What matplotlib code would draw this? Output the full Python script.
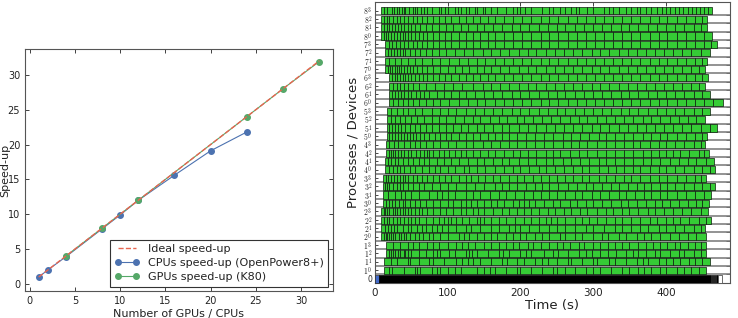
import numpy as np
import matplotlib
matplotlib.use('Agg')
import matplotlib.pyplot as plt

# ---------------- speed-up data (left panel) ----------------
ideal_x = list(range(1, 33))
ideal_y = list(range(1, 33))
cpu_n = [1, 2, 4, 8, 10, 12, 16, 20, 24]
cpu_speedup = [1.0, 2.0, 3.9, 7.9, 9.9, 12.0, 15.6, 19.1, 21.8]
gpu_n = [4, 8, 12, 24, 28, 32]
gpu_speedup = [4.0, 8.0, 12.0, 24.0, 28.0, 31.9]

# ---------------- timeline data (right panel) ----------------
# rows bottom to top: 1^0 .. 8^3  (process ^ device)
row_labels = ['0'] + [r'$%d^%d$' % (p, d) for p in range(1, 9) for d in range(4)]
row_start = [13, 13, 15, 15, 9, 9, 9, 9, 10.5, 10.5, 10.5, 10.5, 14, 14, 15, 15,
             16.5, 16.5, 16.5, 16.5, 19, 20, 20, 20, 14, 14, 14, 14, 8, 8, 8, 8]
row_end = [455, 461, 455, 455, 455, 454, 462, 458, 459, 462, 468, 455, 468, 466, 459, 454,
           456, 470, 454, 461, 479, 460, 454, 458, 454, 457, 461, 470, 464, 456, 457, 464]

proc1 = [
    [20, 24, 40, 55, 58, 62, 78, 85, 90, 100, 110, 118, 140, 150, 158, 165, 180, 195, 200, 215, 230, 245, 250, 262, 275, 290, 300, 310, 325, 340, 350, 362, 370, 380, 392, 400, 415, 425, 435, 445],
    [22, 30, 45, 48, 60, 75, 80, 95, 112, 120, 128, 135, 145, 160, 175, 182, 195, 205, 220, 230, 238, 250, 265, 270, 285, 300, 305, 322, 330, 345, 360, 368, 375, 390, 400, 410, 420, 432, 440, 450],
    [20, 22, 25, 28, 32, 35, 40, 42, 45, 50, 60, 70, 80, 85, 90, 102, 110, 125, 130, 134, 140, 155, 170, 176, 185, 200, 208, 215, 232, 245, 252, 265, 280, 290, 298, 310, 320, 332, 345, 355, 362, 372, 385, 392, 405, 418, 425, 438, 448],
    [25, 35, 45, 52, 60, 72, 80, 88, 100, 112, 120, 128, 138, 150, 160, 170, 180, 190, 198, 210, 218, 228, 240, 250, 258, 268, 280, 288, 300, 310, 320, 330, 340, 350, 362, 372, 382, 392, 402, 412, 420, 430, 440, 448],
]
proc2 = [
    [12, 15, 17, 20, 22, 25, 28, 33, 36, 40, 43, 48, 55, 60, 66, 75, 80, 90, 100, 115, 122, 130, 140, 150, 160, 168, 180, 190, 200, 208, 220, 230, 240, 255, 262, 275, 285, 300, 312, 320, 335, 345, 360, 370, 380, 392, 405, 418, 430, 442],
    [14, 18, 22, 26, 30, 38, 45, 50, 58, 65, 70, 78, 85, 92, 100, 112, 125, 132, 145, 160, 170, 185, 192, 200, 212, 225, 240, 250, 262, 275, 290, 300, 315, 330, 340, 352, 365, 375, 390, 400, 412, 425, 438, 448],
    [13, 16, 20, 25, 30, 35, 40, 45, 50, 55, 60, 70, 80, 88, 95, 100, 105, 112, 120, 130, 140, 145, 150, 160, 170, 180, 192, 205, 215, 225, 235, 242, 250, 262, 275, 285, 295, 305, 318, 330, 340, 352, 365, 378, 388, 400, 410, 420, 432, 445, 455],
    [12, 14, 17, 20, 25, 28, 31, 35, 38, 42, 46, 50, 55, 60, 65, 72, 80, 90, 98, 108, 118, 125, 135, 142, 150, 162, 175, 185, 195, 205, 215, 225, 238, 248, 260, 270, 282, 292, 305, 318, 328, 340, 350, 362, 375, 385, 398, 410, 422, 435, 448],
]
proc3 = [
    [15, 20, 24, 28, 33, 38, 42, 48, 55, 62, 70, 80, 90, 100, 108, 118, 125, 132, 140, 150, 160, 168, 178, 190, 198, 205, 212, 220, 232, 245, 255, 268, 278, 290, 300, 312, 325, 338, 348, 360, 372, 385, 395, 405, 418, 430, 442, 450],
    [18, 28, 36, 42, 50, 60, 75, 85, 92, 100, 110, 125, 135, 145, 158, 170, 180, 192, 205, 218, 228, 240, 250, 262, 275, 285, 298, 310, 322, 335, 345, 358, 370, 380, 392, 402, 415, 428, 440, 452],
    [14, 17, 20, 25, 30, 35, 38, 45, 52, 60, 68, 78, 90, 100, 112, 125, 138, 150, 165, 175, 185, 195, 208, 220, 230, 240, 252, 265, 278, 290, 300, 312, 325, 335, 348, 360, 370, 380, 392, 402, 412, 425, 438, 450, 460],
    [15, 18, 22, 26, 30, 34, 38, 42, 46, 52, 58, 65, 72, 80, 88, 96, 105, 115, 125, 132, 142, 152, 162, 172, 185, 195, 205, 218, 228, 240, 250, 262, 272, 285, 295, 308, 318, 330, 342, 352, 365, 378, 390, 402, 415, 428, 440, 448],
]
proc4 = [
    [20, 25, 30, 35, 40, 48, 55, 65, 75, 82, 90, 100, 110, 122, 130, 140, 152, 165, 178, 190, 200, 212, 225, 235, 248, 260, 272, 285, 295, 308, 320, 332, 342, 355, 365, 378, 390, 400, 412, 425, 438, 450, 460],
    [18, 22, 28, 32, 38, 45, 52, 60, 68, 75, 85, 95, 105, 115, 128, 140, 150, 162, 175, 185, 198, 210, 222, 235, 245, 258, 270, 282, 295, 308, 318, 330, 342, 355, 368, 380, 392, 405, 418, 430, 442, 455],
    [19, 22, 25, 28, 32, 36, 40, 45, 50, 56, 62, 68, 72, 75, 80, 88, 95, 102, 110, 118, 125, 135, 145, 155, 165, 178, 190, 200, 210, 222, 235, 245, 255, 268, 280, 292, 305, 318, 330, 342, 355, 368, 380, 390, 400, 410, 420, 432, 445, 452],
    [20, 26, 32, 40, 48, 55, 62, 70, 80, 90, 100, 112, 125, 135, 148, 160, 172, 185, 195, 208, 220, 232, 245, 258, 270, 280, 292, 305, 318, 330, 342, 355, 365, 378, 390, 400, 412, 425, 438, 448],
]
proc5 = [
    [20, 24, 28, 32, 36, 40, 44, 48, 52, 57, 62, 68, 75, 82, 90, 98, 105, 115, 125, 135, 145, 155, 165, 175, 185, 195, 208, 220, 232, 245, 258, 270, 282, 295, 308, 318, 330, 342, 355, 368, 380, 392, 402, 415, 428, 440, 450],
    [20, 24, 28, 32, 36, 42, 48, 55, 62, 70, 78, 88, 98, 108, 118, 128, 140, 150, 162, 175, 185, 198, 210, 222, 235, 248, 260, 272, 285, 298, 310, 322, 335, 348, 360, 372, 385, 398, 410, 422, 435, 448, 460],
    [22, 28, 35, 42, 50, 58, 68, 78, 88, 98, 110, 122, 135, 145, 158, 170, 182, 195, 205, 218, 230, 242, 255, 268, 280, 292, 305, 318, 330, 342, 355, 368, 380, 392, 405, 418, 430, 442],
    [22, 30, 38, 45, 55, 65, 78, 90, 100, 112, 125, 138, 150, 162, 175, 188, 200, 212, 225, 238, 250, 262, 275, 288, 300, 312, 325, 338, 350, 362, 375, 388, 400, 412, 425, 438, 450],
]
proc6 = [
    [25, 32, 38, 45, 52, 60, 70, 80, 90, 102, 115, 128, 140, 152, 165, 178, 190, 202, 215, 228, 240, 252, 265, 278, 290, 302, 315, 328, 340, 352, 365, 378, 390, 402, 415, 428, 440, 452, 465],
    [24, 28, 32, 36, 40, 45, 50, 56, 62, 68, 75, 85, 95, 105, 115, 125, 138, 150, 162, 175, 188, 200, 212, 225, 238, 250, 262, 275, 288, 300, 312, 325, 338, 350, 362, 375, 388, 400, 412, 425, 438, 450],
    [25, 30, 35, 40, 46, 52, 60, 70, 82, 95, 108, 120, 135, 148, 160, 172, 185, 198, 210, 222, 235, 248, 260, 272, 285, 298, 310, 322, 335, 348, 360, 372, 385, 398, 410, 422, 435, 445],
    [24, 27, 30, 34, 38, 42, 46, 50, 55, 60, 66, 72, 80, 88, 96, 105, 115, 125, 135, 145, 155, 165, 178, 190, 202, 215, 228, 240, 252, 265, 278, 290, 302, 315, 328, 340, 352, 365, 378, 390, 402, 415, 428, 440, 450],
]
proc7 = [
    [18, 21, 24, 27, 30, 33, 36, 40, 44, 48, 52, 58, 65, 72, 80, 90, 100, 110, 120, 130, 140, 150, 160, 172, 185, 198, 210, 222, 235, 248, 260, 272, 285, 298, 310, 322, 335, 348, 360, 372, 385, 398, 410, 422, 435, 445],
    [20, 28, 36, 45, 55, 65, 78, 90, 102, 115, 128, 140, 152, 165, 178, 190, 202, 215, 228, 240, 252, 265, 278, 290, 302, 315, 328, 340, 352, 365, 378, 390, 402, 415, 428, 440, 450],
    [18, 22, 26, 30, 34, 38, 42, 48, 55, 62, 70, 78, 88, 98, 110, 122, 135, 148, 160, 172, 185, 198, 210, 222, 235, 248, 260, 272, 285, 298, 310, 322, 335, 348, 360, 372, 385, 398, 410, 422, 435, 448],
    [19, 24, 29, 34, 40, 46, 52, 58, 65, 72, 80, 88, 96, 105, 115, 125, 135, 145, 155, 165, 178, 190, 202, 215, 228, 240, 252, 265, 278, 290, 302, 315, 328, 340, 352, 365, 378, 390, 402, 415, 428, 440, 452, 462],
]
proc8 = [
    [12, 15, 18, 22, 26, 30, 34, 38, 42, 46, 50, 55, 60, 66, 72, 80, 88, 96, 105, 115, 125, 135, 145, 155, 165, 178, 190, 202, 215, 228, 240, 252, 265, 278, 290, 302, 315, 328, 340, 352, 365, 378, 390, 402, 415, 428, 440, 452],
    [12, 16, 20, 24, 28, 32, 36, 40, 45, 50, 55, 62, 70, 78, 88, 98, 108, 118, 128, 140, 150, 162, 175, 188, 200, 212, 225, 238, 250, 262, 275, 288, 300, 312, 325, 338, 350, 362, 375, 388, 400, 412, 425, 438, 448],
    [12, 16, 20, 25, 30, 35, 40, 46, 52, 58, 65, 72, 80, 88, 96, 105, 115, 125, 135, 145, 155, 165, 178, 190, 202, 215, 228, 240, 252, 265, 278, 290, 302, 315, 328, 340, 352, 365, 378, 390, 402, 415, 428, 440, 450],
    [13, 17, 24, 26, 30, 33, 37, 40, 42, 47, 52, 55, 58, 63, 67, 72, 78, 88, 91, 96, 101, 110, 114, 118, 125, 130, 137, 141, 148, 152, 160, 168, 180, 190, 195, 200, 207, 215, 230, 240, 245, 255, 262, 270, 276, 280, 292, 300, 315, 322, 328, 335, 345, 352, 360, 365, 372, 380, 388, 395, 400, 405, 412, 418, 424, 430, 436, 441, 447, 453, 458],
]

# master row (row 0): blue start-up, then the dense black scheduler bar
master_blue = [(0, 6)]
master_black = [(6, 456), (463, 2), (466, 2), (469, 2)]
master_idle = [(471, 6)]

text_col = '#222222'
plt.rcParams['font.family'] = 'DejaVu Sans'
plt.rcParams['mathtext.fontset'] = 'cm'

fig = plt.figure(figsize=(7.38, 3.18), dpi=100)

# ---------------- left: speed-up ----------------
ax1 = fig.add_axes([0.034, 0.085, 0.417, 0.761])
ax1.plot(ideal_x, ideal_y, '--', color='#e8654f', lw=1.0, label='Ideal speed-up', zorder=3)
ax1.plot(cpu_n, cpu_speedup, '-o', color='#4c72b0', lw=0.8, ms=4, label='CPUs speed-up (OpenPower8+)', zorder=2)
ax1.plot(gpu_n, gpu_speedup, '-o', color='#55a868', lw=0.8, ms=4, label='GPUs speed-up (K80)', zorder=2)
ax1.set_xlim(-0.5, 33.5)
ax1.set_ylim(-1, 33.7)
ax1.set_xticks([0, 5, 10, 15, 20, 25, 30])
ax1.set_yticks([0, 5, 10, 15, 20, 25, 30])
ax1.tick_params(direction='in', top=True, right=True, labelsize=7, colors=text_col, length=3, width=0.6)
ax1.set_xlabel('Number of GPUs / CPUs', fontsize=8, color=text_col, labelpad=2)
ax1.set_ylabel('Speed-up', fontsize=8, color=text_col)
ax1.yaxis.set_label_coords(-0.047, 0.5)
for s in ax1.spines.values():
    s.set_color('#555555')
    s.set_linewidth(0.8)
leg = ax1.legend(loc='lower right', fontsize=8, fancybox=False, framealpha=1, borderaxespad=0.4,
                 handlelength=2.2, labelspacing=0.35, numpoints=2)
leg.get_frame().set_edgecolor('#333333')
leg.get_frame().set_linewidth(0.8)
for t in leg.get_texts():
    t.set_color(text_col)

# ---------------- right: timeline ----------------
ax2 = fig.add_axes([0.508, 0.110, 0.481, 0.884])
all_rows = proc1 + proc2 + proc3 + proc4 + proc5 + proc6 + proc7 + proc8
for i, bounds in enumerate(all_rows):
    y = i + 1
    edges = [row_start[i]] + bounds + [row_end[i]]
    segs = [(edges[k], edges[k + 1] - edges[k]) for k in range(len(edges) - 1)]
    ax2.broken_barh(segs, (y - 0.45, 0.85), facecolors='#35cc35', edgecolors='#0a1a0a',
                    linewidth=0.5, zorder=3)
    ax2.axhline(y - 0.5, color='#808080', lw=1.2, zorder=2)

ax2.broken_barh(master_blue, (-0.5, 0.95), facecolors='#4169c8', edgecolors='#333333', linewidth=0.5, zorder=3)
ax2.broken_barh(master_black, (-0.5, 0.95), facecolors='black', edgecolors='black', linewidth=0.5, zorder=3)
ax2.broken_barh(master_idle, (-0.5, 0.95), facecolors='white', edgecolors='#555555', linewidth=0.6, zorder=3)

ax2.set_xlim(0, 488)
ax2.set_ylim(-0.55, 33.05)
ax2.set_xticks([0, 100, 200, 300, 400])
ax2.set_yticks(range(len(row_labels)))
ax2.set_yticklabels(row_labels, fontsize=5.5, color=text_col)
ax2.set_yticks([i + 0.5 for i in range(32)], minor=True)
ax2.tick_params(axis='y', which='major', direction='in', left=True, right=False, length=2, width=0.5, pad=2)
ax2.tick_params(axis='y', which='minor', direction='in', left=False, right=True, length=3, width=0.6)
ax2.tick_params(axis='x', direction='in', top=True, labelsize=7.5, colors=text_col, length=3, width=0.6)
ax2.set_xlabel('Time (s)', fontsize=9.5, color=text_col, labelpad=1)
ax2.set_ylabel('Processes / Devices', fontsize=9.5, color=text_col, labelpad=3)
for s in ax2.spines.values():
    s.set_color('#555555')
    s.set_linewidth(0.8)

fig.savefig('out.png', dpi=100)
